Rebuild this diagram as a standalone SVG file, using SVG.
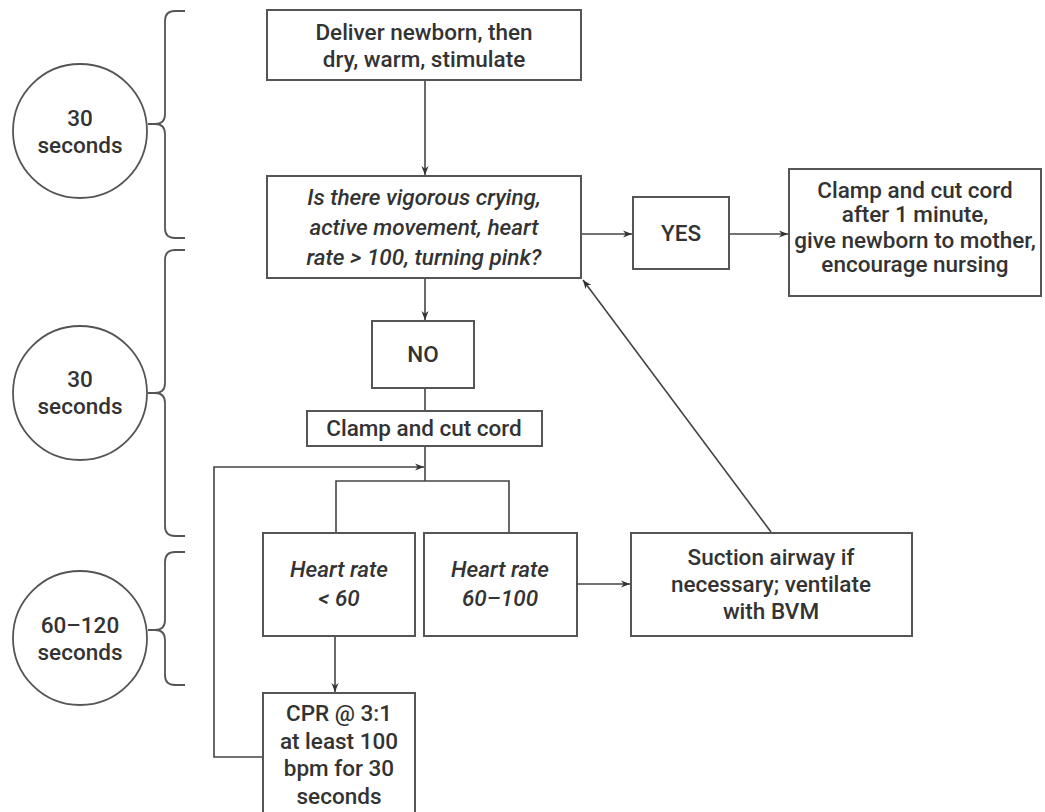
<svg xmlns="http://www.w3.org/2000/svg" width="1045" height="812" viewBox="0 0 1045 812">
<defs>
<marker id="ah" viewBox="0 0 10 10" refX="10" refY="5" markerWidth="9" markerHeight="9" markerUnits="userSpaceOnUse" orient="auto">
<path d="M0,1 L10,5 L0,9 L3,5 Z" fill="#333"/>
</marker>
<style>
.box{fill:#fff;stroke:#555;stroke-width:2}
.ln{fill:none;stroke:#444;stroke-width:1.6}
.t{font-family:Roboto,"Liberation Sans",Arial,sans-serif;font-weight:500;font-size:22.5px;fill:#333;text-anchor:middle}
.i{font-style:italic}
.circ{fill:#fff;stroke:#555;stroke-width:1.8}
.br{fill:none;stroke:#555;stroke-width:1.8}
</style>
</defs>
<rect width="1045" height="812" fill="#fff"/>
<g id="timing1">
<circle class="circ" cx="80" cy="131" r="67"/>
<text class="t" x="80" y="126">30</text>
<text class="t" x="80" y="153">seconds</text>
<path class="br" d="M185,11 H175 Q165,11 165,21 V114 Q165,124 155,124 H148 M155,124 Q165,124 165,134 V228 Q165,238 175,238 H185"/>
</g>
<g id="timing2">
<circle class="circ" cx="80" cy="393" r="67"/>
<text class="t" x="80" y="387">30</text>
<text class="t" x="80" y="414">seconds</text>
<path class="br" d="M185,250 H175 Q165,250 165,260 V383 Q165,393 155,393 H148 M155,393 Q165,393 165,403 V526 Q165,536 175,536 H185"/>
</g>
<g id="timing3">
<circle class="circ" cx="80" cy="638" r="67"/>
<text class="t" x="80" y="633">60–120</text>
<text class="t" x="80" y="660">seconds</text>
<path class="br" d="M185,552 H175 Q165,552 165,562 V620 Q165,630 155,630 H148 M155,630 Q165,630 165,640 V675 Q165,685 175,685 H185"/>
</g>
<g id="connectors">
<path class="ln" d="M425,80 V175" marker-end="url(#ah)"/>
<path class="ln" d="M581,234 H632" marker-end="url(#ah)"/>
<path class="ln" d="M729,234 H788" marker-end="url(#ah)"/>
<path class="ln" d="M425,278 V320" marker-end="url(#ah)"/>
<path class="ln" d="M425,388 V411"/>
<path class="ln" d="M425,446 V481"/>
<path class="ln" d="M336,533 V481 H509 V533"/>
<path class="ln" d="M263,757 H214 V467 H424" marker-end="url(#ah)"/>
<path class="ln" d="M335,636 V692" marker-end="url(#ah)"/>
<path class="ln" d="M577,584 H630" marker-end="url(#ah)"/>
<path class="ln" d="M771,532 L583,280" marker-end="url(#ah)"/>
</g>
<g id="deliver">
<rect class="box" x="267" y="10" width="314" height="70"/>
<text class="t" x="424" y="40">Deliver newborn, then</text>
<text class="t" x="424" y="67">dry, warm, stimulate</text>
</g>
<g id="question">
<rect class="box" x="267" y="176" width="314" height="102"/>
<text class="t i" x="424" y="205">Is there vigorous crying,</text>
<text class="t i" x="424" y="235">active movement, heart</text>
<text class="t i" x="424" y="265">rate &gt; 100, turning pink?</text>
</g>
<g id="yes">
<rect class="box" x="633" y="197" width="96" height="72"/>
<text class="t" x="681" y="241">YES</text>
</g>
<g id="clamp-after">
<rect class="box" x="789" y="169" width="252" height="127"/>
<text class="t" x="915" y="198">Clamp and cut cord</text>
<text class="t" x="915" y="222">after 1 minute,</text>
<text class="t" x="915" y="248">give newborn to mother,</text>
<text class="t" x="915" y="272">encourage nursing</text>
</g>
<g id="no">
<rect class="box" x="372" y="321" width="102" height="67"/>
<text class="t" x="423" y="362">NO</text>
</g>
<g id="clamp">
<rect class="box" x="307" y="411" width="235" height="35"/>
<text class="t" x="424" y="436">Clamp and cut cord</text>
</g>
<g id="hr-low">
<rect class="box" x="263" y="533" width="152" height="103"/>
<text class="t i" x="339" y="577">Heart rate</text>
<text class="t i" x="339" y="606">&lt; 60</text>
</g>
<g id="hr-mid">
<rect class="box" x="424" y="533" width="153" height="103"/>
<text class="t i" x="500" y="577">Heart rate</text>
<text class="t i" x="500" y="606">60–100</text>
</g>
<g id="suction">
<rect class="box" x="631" y="533" width="281" height="103"/>
<text class="t" x="771" y="565">Suction airway if</text>
<text class="t" x="771" y="592">necessary; ventilate</text>
<text class="t" x="771" y="619">with BVM</text>
</g>
<g id="cpr">
<rect class="box" x="263" y="693" width="152" height="125"/>
<text class="t" x="339" y="721">CPR @ 3:1</text>
<text class="t" x="339" y="749">at least 100</text>
<text class="t" x="339" y="776">bpm for 30</text>
<text class="t" x="339" y="804">seconds</text>
</g>
</svg>
